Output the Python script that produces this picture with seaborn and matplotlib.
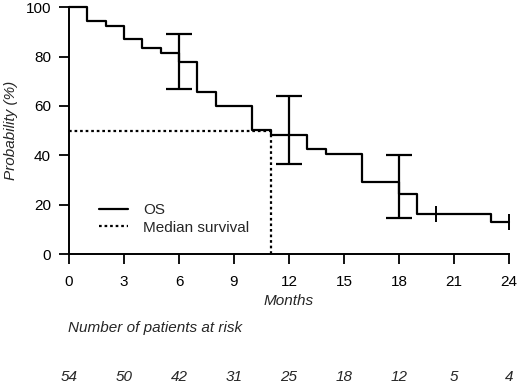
import numpy as np
import pandas as pd
import matplotlib
matplotlib.use("Agg")
import matplotlib.pyplot as plt
import seaborn as sns

# ---- data ----
months = [0, 1, 2, 3, 4, 5, 6, 7, 8, 10, 11, 13, 14, 16, 18, 19, 23, 24]
survival = [100, 94.4, 92.6, 87.0, 83.3, 81.5, 77.8, 65.7, 60.0, 50.1, 48.4,
            42.5, 40.4, 29.1, 24.4, 16.3, 13.1, 13.1]
ci_months = [6, 12, 18]
ci_lower = [66.8, 36.6, 14.6]
ci_upper = [89.3, 63.9, 40.1]
censor_months = [20, 24]
censor_surv = [16.3, 13.1]
median_months = 11
median_level = 50
xticks = [0, 3, 6, 9, 12, 15, 18, 21, 24]
yticks = [0, 20, 40, 60, 80, 100]
at_risk = [54, 50, 42, 31, 25, 18, 12, 5, 4]

sns.set_style("ticks")
plt.rcParams['font.family'] = ['Liberation Sans', 'DejaVu Sans']

fig = plt.figure(figsize=(5.2, 3.88), dpi=100)
ax = fig.add_axes([69/520, 1 - 254/388, (509-69)/520, (254-7.3)/388])

df = pd.DataFrame({"Months": months, "Survival": survival})
sns.lineplot(data=df, x="Months", y="Survival", ax=ax, drawstyle="steps-post",
             color="black", lw=1.6, estimator=None, label="OS", clip_on=False)

# median survival dotted lines
ax.plot([0, median_months, median_months], [median_level, median_level, 0],
        color="black", lw=1.6, linestyle=(0, (1.2, 1.3)), label="Median survival",
        clip_on=False)

# confidence interval bars
ci_l = np.array(ci_lower); ci_u = np.array(ci_upper)
ax.errorbar(ci_months, (ci_l + ci_u) / 2, yerr=(ci_u - ci_l) / 2, fmt="none",
            ecolor="black", elinewidth=1.6, capsize=9.5, capthick=1.6, clip_on=False)

# censor marks
ax.plot(censor_months, censor_surv, linestyle="none", marker="|", color="black",
        markersize=11, markeredgewidth=1.4, clip_on=False)

fs = 11
ax.set_xlim(0, 24)
ax.set_ylim(0, 100)
ax.set_xticks(xticks)
ax.set_yticks(yticks)
ax.tick_params(axis="both", direction="out", length=7, width=1.3, labelsize=fs,
               colors="black", pad=8)
ax.tick_params(axis="y", pad=6)
for s in ["left", "bottom"]:
    ax.spines[s].set_linewidth(1.4)
    ax.spines[s].set_color("black")
sns.despine(ax=ax)

ax.set_xlabel("Months", fontsize=fs, style="italic", labelpad=4)
ax.set_ylabel("Probability (%)", fontsize=fs, style="italic", labelpad=5)

leg = ax.legend(loc="upper left", bbox_to_anchor=(99/520, 1 - 203/388),
                bbox_transform=fig.transFigure, frameon=False, fontsize=fs,
                handlelength=1.9, handletextpad=1.0, labelspacing=0.25,
                borderpad=0, borderaxespad=0)

fig.text(68/520, 1 - 328/388, "Number of patients at risk", fontsize=fs,
         style="italic", ha="left", va="center")
for m, n in zip(xticks, at_risk):
    xd = ax.transData.transform((m, 0))[0]
    fig.text(xd / fig.bbox.width, 1 - 377/388, str(n), fontsize=fs,
             style="italic", ha="center", va="center")

fig.savefig("out.png", dpi=100)
